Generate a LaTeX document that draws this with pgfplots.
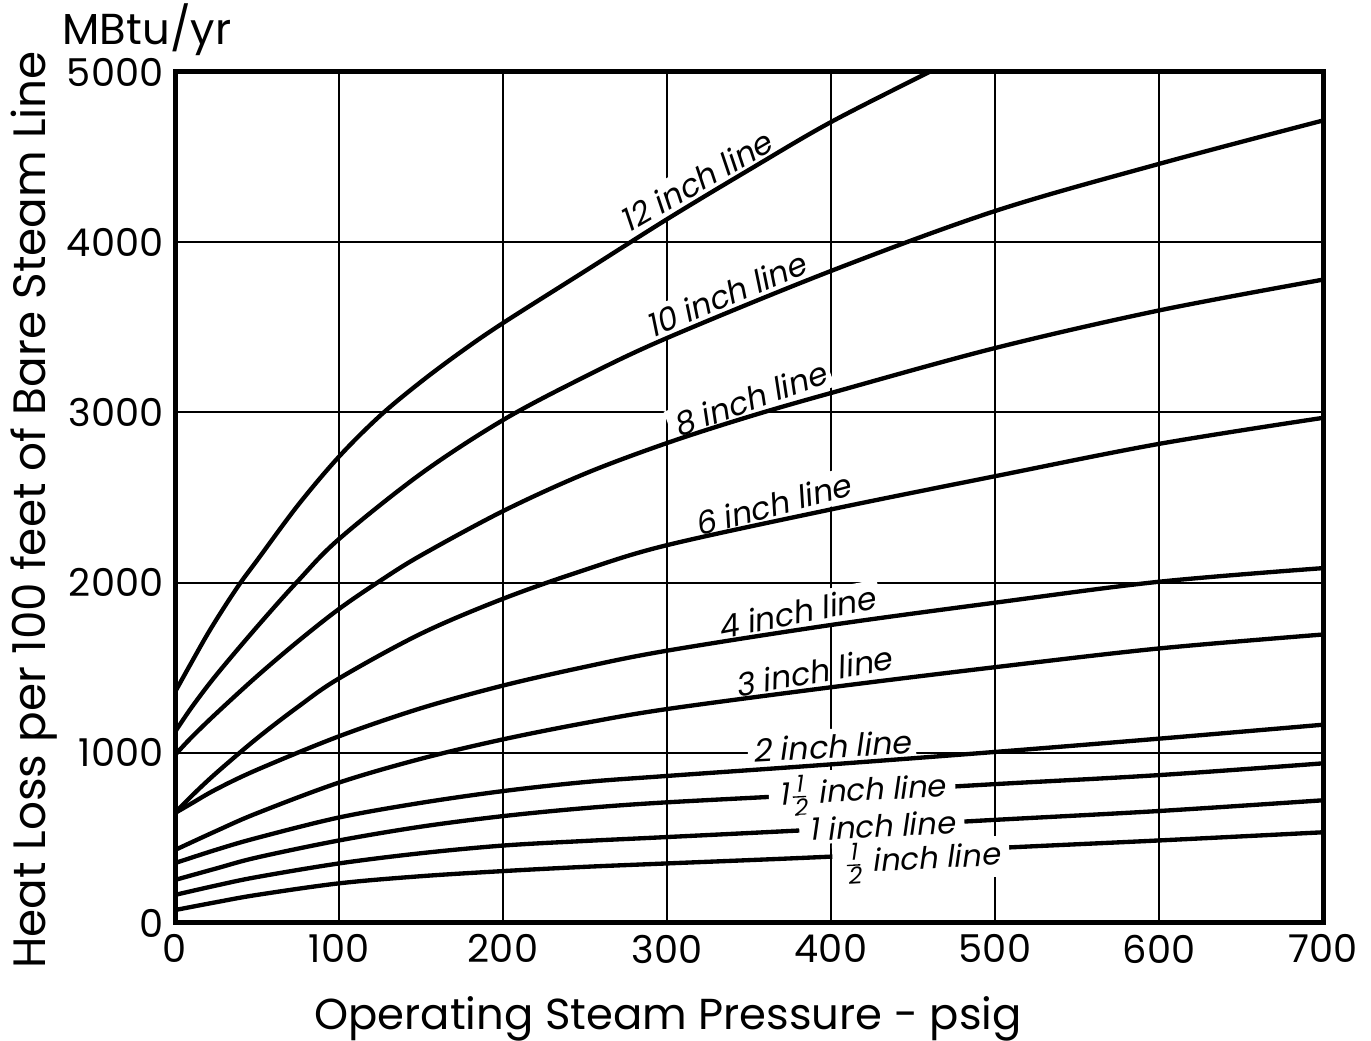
\documentclass[border=0pt]{standalone}
\usepackage{fontspec}
\setmainfont{Poppins}
\newfontfamily\lbl{Poppins}[FakeSlant=0.2]
\usepackage{pgfplots}
\pgfplotsset{compat=1.18}
\newcommand{\hf}{$\frac{\mbox{\fontsize{7}{7}\selectfont\lbl 1}}{\mbox{\fontsize{7}{7}\selectfont\lbl 2}}$}
\pgfplotsset{crv/.style={black, solid, mark=none, line width=1.3pt, smooth, tension=0.55}}
\begin{document}
\begin{tikzpicture}
\begin{axis}[
  at={(0,0)}, anchor=south west,
  scale only axis, width=344.4pt, height=255.3pt,
  xmin=0, xmax=700, ymin=0, ymax=5000,
  xtick={0,100,...,700}, ytick={0,1000,...,5000},
  grid=major, major grid style={black, line width=0.6pt},
  major tick length=0pt,
  axis line style={line width=1.5pt},
  tick label style={font=\fontsize{11.5}{12}\selectfont},
  /pgf/number format/assume math mode=true,
  /pgf/number format/1000 sep={},
  clip=true,
]
% labels sitting above curves (drawn before curves)
\begin{scope}[every node/.style={font=\fontsize{9.5}{10}\selectfont\lbl, fill=white, inner sep=1.5pt, anchor=south}]
\node[rotate=30] at (axis cs:323,4268) {12 inch line};
\node[rotate=23] at (axis cs:340,3595) {10 inch line};
\node[rotate=20] at (axis cs:354,2979) {8 inch line};
\node[rotate=15] at (axis cs:367,2357) {6 inch line};
\node[rotate=11] at (axis cs:381,1722) {4 inch line};
\node[rotate=10, fill=none] at (axis cs:391,1374) {3 inch line};
\node[rotate=3] at (axis cs:401,935) {2 inch line};
\end{scope}
% 12 inch
\addplot[crv] coordinates {(0,1357)(10,1530)(20,1700)(30,1855)(40,2000)(50,2130)(75,2455)(100,2740)(125,2980)(150,3180)(175,3360)(200,3525)(250,3830)(300,4135)(350,4425)(400,4706)(460,5000)};
% 10 inch
\addplot[crv] coordinates {(0,1122)(10,1265)(25,1455)(50,1740)(75,2010)(100,2256)(150,2640)(200,2955)(250,3210)(300,3437)(400,3831)(500,4183)(600,4460)(700,4715)};
% 8 inch
\addplot[crv] coordinates {(0,987)(10,1090)(25,1230)(50,1450)(75,1655)(100,1845)(125,2010)(150,2160)(200,2420)(250,2640)(300,2820)(350,2975)(400,3114)(500,3378)(600,3599)(700,3780)};
% 6 inch
\addplot[crv] coordinates {(0,646)(10,745)(25,880)(50,1085)(75,1270)(100,1437)(150,1700)(200,1905)(250,2075)(300,2220)(400,2430)(500,2625)(600,2815)(700,2968)};
% 4 inch
\addplot[crv] coordinates {(0,646)(10,702)(25,785)(50,900)(100,1097)(150,1262)(200,1395)(250,1505)(300,1600)(400,1751)(500,1882)(600,2005)(700,2085)};
% 3 inch
\addplot[crv] coordinates {(0,429)(25,540)(50,645)(100,825)(150,965)(200,1079)(250,1175)(300,1257)(400,1385)(500,1503)(600,1613)(700,1695)};
% 2 inch
\addplot[crv] coordinates {(0,352)(25,430)(50,500)(100,620)(150,706)(200,775)(250,828)(300,864)(400,932)(500,1005)(600,1083)(700,1165)};
% 1 1/2 inch
\addplot[crv] coordinates {(0,253)(25,320)(50,385)(100,485)(150,566)(200,628)(250,675)(300,709)(400,760)(500,816)(600,869)(700,938)};
% 1 inch
\addplot[crv] coordinates {(0,165)(25,220)(50,270)(100,350)(150,410)(200,455)(250,482)(300,505)(400,553)(500,606)(600,658)(700,721)};
% 1/2 inch
\addplot[crv] coordinates {(0,76)(25,122)(50,165)(100,233)(150,275)(200,305)(250,330)(300,350)(400,390)(500,440)(600,485)(700,533)};
% labels breaking curves
\begin{scope}[every node/.style={font=\fontsize{9.2}{10}\selectfont\lbl, fill=white, inner xsep=3pt, inner ysep=1pt}]
\node[rotate=3] at (axis cs:419,768) {1\hf\ inch line};
\node[rotate=3] at (axis cs:431,572) {1 inch line};
\node[rotate=3, inner ysep=0pt] at (axis cs:455,368) {\hf\ inch line};
\end{scope}
\end{axis}
\node[anchor=base, font=\fontsize{13}{14}\selectfont] at (147.9pt,-32.1pt) {Operating Steam Pressure - psig};
\node[anchor=base, rotate=90, font=\fontsize{13.6}{14}\selectfont] at (-38.7pt,123.9pt) {Heat Loss per 100 feet of Bare Steam Line};
\node[anchor=base west, inner sep=0pt, font=\fontsize{13}{14}\selectfont] at (-33.9pt,263.4pt) {MBtu/yr};
\pgfresetboundingbox
\path[use as bounding box] (-52.5pt,-35.4pt) rectangle (358.8pt,276.9pt);
\end{tikzpicture}
\end{document}
